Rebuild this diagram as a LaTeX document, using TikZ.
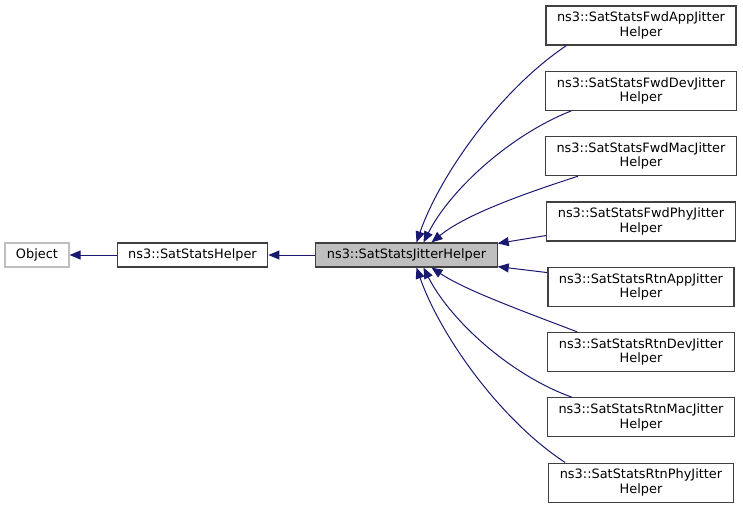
\documentclass[tikz,border=0pt]{standalone}
\usepackage{fontspec}
\setmainfont{DejaVu Sans}
\usepackage{tikz}
\usetikzlibrary{arrows.meta}

\definecolor{edgeblue}{RGB}{25,25,112}
\definecolor{boxgray}{RGB}{191,191,191}
\definecolor{boxline}{RGB}{64,64,64}

\tikzset{
	classbox/.style={draw=boxline, line width=1.2pt, fill=white, inner xsep=11pt, inner ysep=2pt,
		minimum height=24pt, align=center, font=\fontsize{12.9}{14.5}\selectfont},
	childbox/.style={classbox, minimum height=39pt},
	inherit/.style={draw=edgeblue, line width=1pt, {Triangle[length=11pt,width=9pt]}-}
}

\begin{document}
\begin{tikzpicture}[x=1pt, y=-1pt]
		\useasboundingbox (0, 0) rectangle (743, 509);

		\node [classbox, draw=boxgray] (obj) at (37, 255) {Object};
		\node [classbox] (helper) at (192.5, 255) {ns3::SatStatsHelper};
		\node [classbox, fill=boxgray] (jitter) at (406.5, 255) {ns3::SatStatsJitterHelper};

		\foreach \name/\txt [count=\i] in {fwdapp/FwdApp, fwddev/FwdDev, fwdmac/FwdMac, fwdphy/FwdPhy,
				rtnapp/RtnApp, rtndev/RtnDev, rtnmac/RtnMac, rtnphy/RtnPhy} {
			\node [childbox] (\name) at (641, 25.5 + 65.3 * \i - 65.3) {ns3::SatStats\txt Jitter\\Helper};
		}

		\draw [inherit] (obj) -- (helper);
		\draw [inherit] (helper) -- (jitter);

		\draw [inherit] ([xshift=10pt]jitter.north) .. controls (440, 175) and (500, 90) .. ([xshift=21pt]fwdapp.south west);
		\draw [inherit] ([xshift=17pt]jitter.north) .. controls (450, 190) and (510, 135) .. ([xshift=26pt]fwddev.south west);
		\draw [inherit] ([xshift=25pt]jitter.north) .. controls (465, 215) and (520, 195) .. ([xshift=33pt]fwdmac.south west);
		\draw [inherit] ([yshift=-1pt]jitter.north east) -- ([yshift=6pt]fwdphy.south west);
		\draw [inherit] ([yshift=1pt]jitter.south east) -- ([yshift=-6pt]rtnapp.north west);
		\draw [inherit] ([xshift=25pt]jitter.south) .. controls (465, 290) and (520, 310) .. ([xshift=30pt]rtndev.north west);
		\draw [inherit] ([xshift=17pt]jitter.south) .. controls (450, 320) and (510, 375) .. ([xshift=25pt]rtnmac.north west);
		\draw [inherit] ([xshift=10pt]jitter.south) .. controls (440, 335) and (500, 420) .. ([xshift=17pt]rtnphy.north west);
	\end{tikzpicture}
\end{document}
